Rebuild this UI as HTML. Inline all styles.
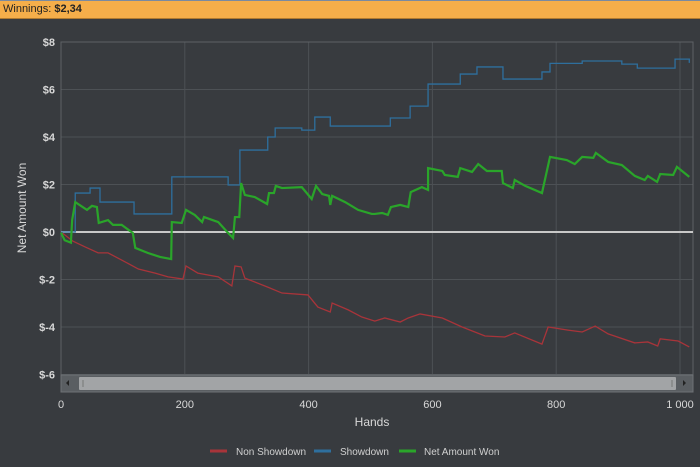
<!DOCTYPE html>
<html><head><meta charset="utf-8"><style>
body{margin:0;width:700px;height:467px;background:#383b3f;overflow:hidden;font-family:"Liberation Sans",sans-serif}
#hdr{position:absolute;left:0;top:0;width:700px;height:19px;background:#f5ae4a;border-top:1px solid #7a8aa0;border-bottom:1px solid #b07a30;box-sizing:border-box;font-size:11px;line-height:17px;color:#222;padding-left:3px}
</style></head><body>
<div id="hdr">Winnings: <b>$2,34</b></div>
<svg id="c" width="700" height="467" style="position:absolute;left:0;top:0"></svg>
<script>
const xTicks=[0,200,400,600,800,1000];
const xTickLabels=["0","200","400","600","800","1 000"];
const yTicks=[8,6,4,2,0,-2,-4,-6];
const yTickLabels=["$8","$6","$4","$2","$0","$-2","$-4","$-6"];
const showHands=[0,20,23,47,63,118,179,270,289,334,346,389,410,435,532,564,593,645,672,714,777,790,842,906,931,992,1015];
const showVals=[0,0,1.64,1.85,1.26,0.76,2.32,1.98,3.45,4.0,4.38,4.29,4.84,4.46,4.8,5.3,6.23,6.65,6.95,6.44,6.74,7.1,7.2,7.07,6.9,7.28,7.12];
const netHands=[0,6,16,18,23,42,50,58,61,76,84,98,116,120,140,160,178,179,195,202,216,228,231,254,270,278,281,288,291,297,313,333,336,344,347,357,389,405,412,422,433,435,438,459,480,502,507,519,528,533,548,561,565,583,593,593,616,620,641,645,664,674,688,712,714,730,733,750,777,790,817,830,842,860,864,884,906,927,943,948,963,968,989,995,1015];
const netVals=[-0.03,-0.35,-0.45,0.5,1.26,0.93,1.1,1.05,0.38,0.5,0.3,0.3,-0.04,-0.67,-0.88,-1.05,-1.14,0.42,0.38,0.93,0.72,0.42,0.63,0.42,-0.04,-0.25,0.63,0.63,2.06,1.56,1.47,1.18,1.64,1.64,1.94,1.85,1.89,1.39,1.94,1.6,1.52,1.14,1.52,1.26,0.93,0.76,0.76,0.8,0.72,1.05,1.14,1.05,1.68,1.89,1.77,2.69,2.57,2.4,2.32,2.69,2.53,2.86,2.57,2.57,2.06,1.85,2.19,1.94,1.64,3.16,3.03,2.86,3.16,3.12,3.33,2.95,2.82,2.36,2.19,2.36,2.11,2.44,2.4,2.74,2.32];
const nonHands=[0,19,39,60,76,98,125,152,173,197,202,221,254,276,281,291,297,334,357,399,415,435,438,464,486,507,523,548,561,580,616,648,685,717,733,777,787,819,842,863,884,927,948,964,968,997,1015];
const nonVals=[0,-0.38,-0.63,-0.88,-0.88,-1.18,-1.56,-1.73,-1.89,-1.98,-1.43,-1.73,-1.89,-2.27,-1.43,-1.47,-1.94,-2.32,-2.57,-2.65,-3.16,-3.37,-2.99,-3.28,-3.58,-3.75,-3.62,-3.79,-3.62,-3.45,-3.62,-4.0,-4.38,-4.42,-4.25,-4.72,-4.0,-4.13,-4.21,-3.96,-4.29,-4.67,-4.63,-4.8,-4.5,-4.59,-4.84];

const svg=document.getElementById('c');const NS='http://www.w3.org/2000/svg';
const X0=61,XR=693,YT=42,YB=375;
const xs=v=>X0+v*0.619;
const ys=v=>232-v*23.75;
function mk(t,a,p){const e=document.createElementNS(NS,t);for(const k in a)e.setAttribute(k,a[k]);(p||svg).appendChild(e);return e;}
// grid
yTicks.forEach((v,i)=>{
 const g=mk('line',{x1:X0,x2:XR,y1:ys(v),y2:ys(v),stroke:'#4d5155','stroke-width':1});
 
 
 const t=mk('text',{x:55,y:ys(v)+4,'text-anchor':'end','font-size':11,fill:'#d8d8d8','font-weight':'bold'});
 t.textContent=yTickLabels[i];
 
 
});
xTicks.forEach((v,i)=>{
 const g=mk('line',{x1:xs(v),x2:xs(v),y1:YT,y2:YB,stroke:'#4d5155','stroke-width':1});
 
 
 const t=mk('text',{x:xs(v),y:408,'text-anchor':'middle','font-size':11,fill:'#d8d8d8'});
 t.textContent=xTickLabels[i];
 
 
});
const fr=mk('rect',{x:X0,y:YT,width:XR-X0,height:YB-YT,fill:'none',stroke:'#5e6266'});


const zl=mk('line',{x1:X0,x2:XR,y1:ys(0),y2:ys(0),stroke:'#c8c8c8','stroke-width':2});


function stepPts(h,v){let p=[];for(let i=0;i<h.length;i++){if(i>0)p.push(xs(h[i])+','+ys(v[i-1]));p.push(xs(h[i])+','+ys(v[i]));}return p.join(' ');}
function linePts(h,v){return h.map((x,i)=>xs(x)+','+ys(v[i])).join(' ');}
const l1=mk('polyline',{points:linePts(nonHands,nonVals),fill:'none',stroke:'#a8343a','stroke-width':1.3});


const l2=mk('polyline',{points:stepPts(showHands,showVals),fill:'none',stroke:'#2e6f9e','stroke-width':1.3});


const l3=mk('polyline',{points:linePts(netHands,netVals),fill:'none',stroke:'#2aa52a','stroke-width':2.2});


</script>
<svg width="700" height="467" style="position:absolute;left:0;top:0;pointer-events:none">
<g>
<rect x="61" y="375" width="632" height="17" fill="#5a5e62" stroke="#6e7276"/>
<rect x="79" y="377" width="597" height="13" fill="#a2a4a6" rx="1"/>
<polygon points="69,380 69,386 66,383" fill="#222"/>
<polygon points="683,380 683,386 686,383" fill="#222"/>
<line x1="83" y1="380" x2="83" y2="387" stroke="#777"/>
<line x1="672" y1="380" x2="672" y2="387" stroke="#777"/>
</g>
<text x="372" y="426" text-anchor="middle" font-size="12" fill="#d8d8d8" font-family="Liberation Sans">Hands</text>
<text transform="translate(26,208) rotate(-90)" text-anchor="middle" font-size="12" fill="#d8d8d8" font-family="Liberation Sans">Net Amount Won</text>
<g font-size="10" fill="#d0d0d0" font-family="Liberation Sans">
<g><line x1="210" x2="227" y1="451" y2="451" stroke="#a8343a" stroke-width="3"/><text x="236" y="455">Non Showdown</text></g>
<g><line x1="314" x2="331" y1="451" y2="451" stroke="#2e6f9e" stroke-width="3"/><text x="340" y="455">Showdown</text></g>
<g><line x1="399" x2="416" y1="451" y2="451" stroke="#2aa52a" stroke-width="3"/><text x="424" y="455">Net Amount Won</text></g>
</g>
</svg>
</body></html>
